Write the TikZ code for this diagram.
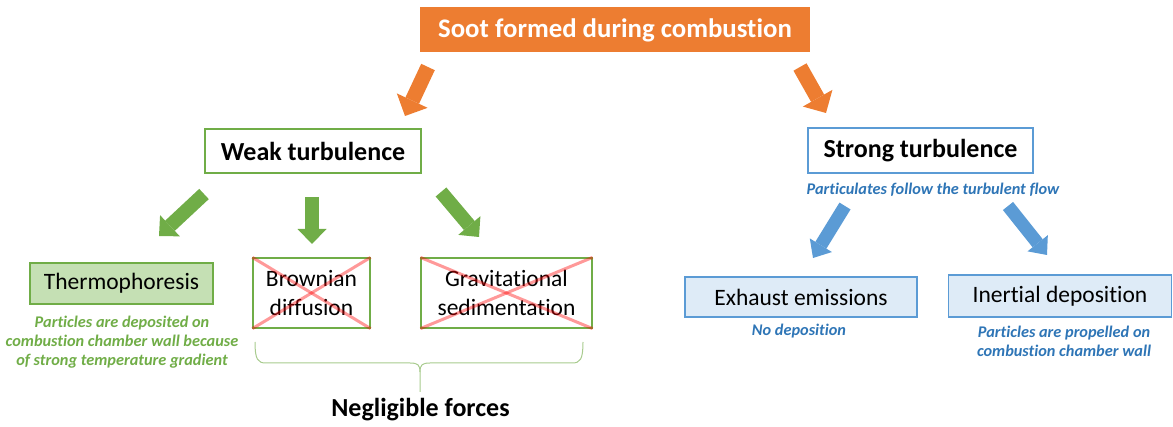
\documentclass[tikz,border=0pt]{standalone}
\usepackage{fontspec}
\setmainfont{Carlito}[Ligatures={NoCommon}]
\usetikzlibrary{arrows.meta,calc}
\definecolor{soot}{HTML}{ED7D31}
\definecolor{grn}{HTML}{70AD47}
\definecolor{grnfill}{HTML}{C5E0B4}
\definecolor{blu}{HTML}{5B9BD5}
\definecolor{blufill}{HTML}{DEEBF7}
\definecolor{blutext}{HTML}{2E75B6}
\definecolor{bracegrn}{HTML}{A8CB8E}
\tikzset{
  hdr/.style={font=\bfseries\fontsize{26}{30}\selectfont, text=black, inner sep=0pt},
  reg/.style={font=\fontsize{23.5}{29}\selectfont, text=black, inner sep=0pt, align=center},
  desc/.style={font=\bfseries\itshape\fontsize{16.3}{19.3}\selectfont, align=center, inner sep=0pt},
  crossline/.style={red, opacity=0.4, line width=3pt},
  orangearrow/.style={draw=soot, line width=15pt, -{Triangle[width=34pt,length=17pt,line width=0pt]}},
  greenarrow/.style={draw=grn, line width=14pt, -{Triangle[width=29pt,length=15pt,line width=0pt]}},
  bluearrow/.style={draw=blu, line width=13pt, -{Triangle[width=26pt,length=15pt,line width=0pt]}},
}
\begin{document}
\begin{tikzpicture}[x=1pt,y=-1pt]
\useasboundingbox (0,0) rectangle (1173,427);
% top
\node[hdr, font=\bfseries\fontsize{26.8}{30}\selectfont, fill=soot, text=white, minimum width=390pt, minimum height=45pt] (top) at (615,30) {Soot formed during combustion};
% level 2
\node[hdr, draw=grn, line width=1.5pt, fill=white, minimum width=216pt, minimum height=44pt] (weak) at (313,151) {Weak turbulence};
\node[hdr, draw=blu, line width=1.5pt, fill=white, minimum width=225pt, minimum height=45pt] (strong) at (920.5,150.5) {Strong turbulence};
\node[desc, text=blutext] (follow) at (933,190) {Particulates follow the turbulent flow};
% weak children
\node[reg, draw=grn, line width=1.2pt, fill=grnfill, minimum width=183pt, minimum height=41pt] (thermo) at (121.5,283.5) {Thermophoresis};
\node[desc, text=grn] (thermodesc) at (122,342) {Particles are deposited on\\combustion chamber wall because\\of strong temperature gradient};
\node[reg, draw=grn, line width=1.2pt, minimum width=117pt, minimum height=70pt] (brown) at (311.5,293) {Brownian\\diffusion};
\node[reg, draw=grn, line width=1.2pt, minimum width=171pt, minimum height=70pt] (grav) at (506.5,293) {Gravitational\\sedimentation};
\draw[crossline] (brown.north west) -- (brown.south east);
\draw[crossline] (brown.north east) -- (brown.south west);
\draw[crossline] (grav.north west) -- (grav.south east);
\draw[crossline] (grav.north east) -- (grav.south west);
% brace
\coordinate (bl) at (255,342);
\coordinate (br) at (583,342);
\coordinate (bm) at (420,392);
\draw[bracegrn, line width=1pt] (bl) .. controls (255,360) and (258,363) .. (266,363) -- (410,363) .. controls (418,363) and (420,365) .. (420,372) -- (bm);
\draw[bracegrn, line width=1pt] (br) .. controls (583,360) and (580,363) .. (572,363) -- (430,363) .. controls (422,363) and (420,365) .. (420,372);
\node[hdr] (neg) at (420.5,410) {Negligible forces};
% strong children
\node[reg, draw=blu, line width=1.2pt, fill=blufill, minimum width=232pt, minimum height=40pt] (exhaust) at (801,297) {Exhaust emissions};
\node[desc, text=blutext] (nodep) at (799,331) {No deposition};
\node[reg, draw=blu, line width=1.2pt, fill=blufill, minimum width=223pt, minimum height=42pt] (inert) at (1060,296) {Inertial deposition};
\node[desc, text=blutext] (propel) at (1064,341.5) {Particles are propelled on\\combustion chamber wall};
% arrows
\coordinate (o1s) at (428,67); \coordinate (o1e) at (405,116);
\coordinate (o2s) at (800,67); \coordinate (o2e) at (826,113);
\draw[orangearrow] (o1s) -- (o1e);
\draw[orangearrow] (o2s) -- (o2e);
\coordinate (g1s) at (204,194); \coordinate (g1e) at (159,236);
\coordinate (g2s) at (312,197); \coordinate (g2e) at (312,244);
\coordinate (g3s) at (441,192); \coordinate (g3e) at (479,237);
\draw[greenarrow] (g1s) -- (g1e);
\draw[greenarrow] (g2s) -- (g2e);
\draw[greenarrow] (g3s) -- (g3e);
\coordinate (b1s) at (845,206); \coordinate (b1e) at (813,258);
\coordinate (b2s) at (1008,206); \coordinate (b2e) at (1047,255);
\draw[bluearrow] (b1s) -- (b1e);
\draw[bluearrow] (b2s) -- (b2e);
\end{tikzpicture}
\end{document}
